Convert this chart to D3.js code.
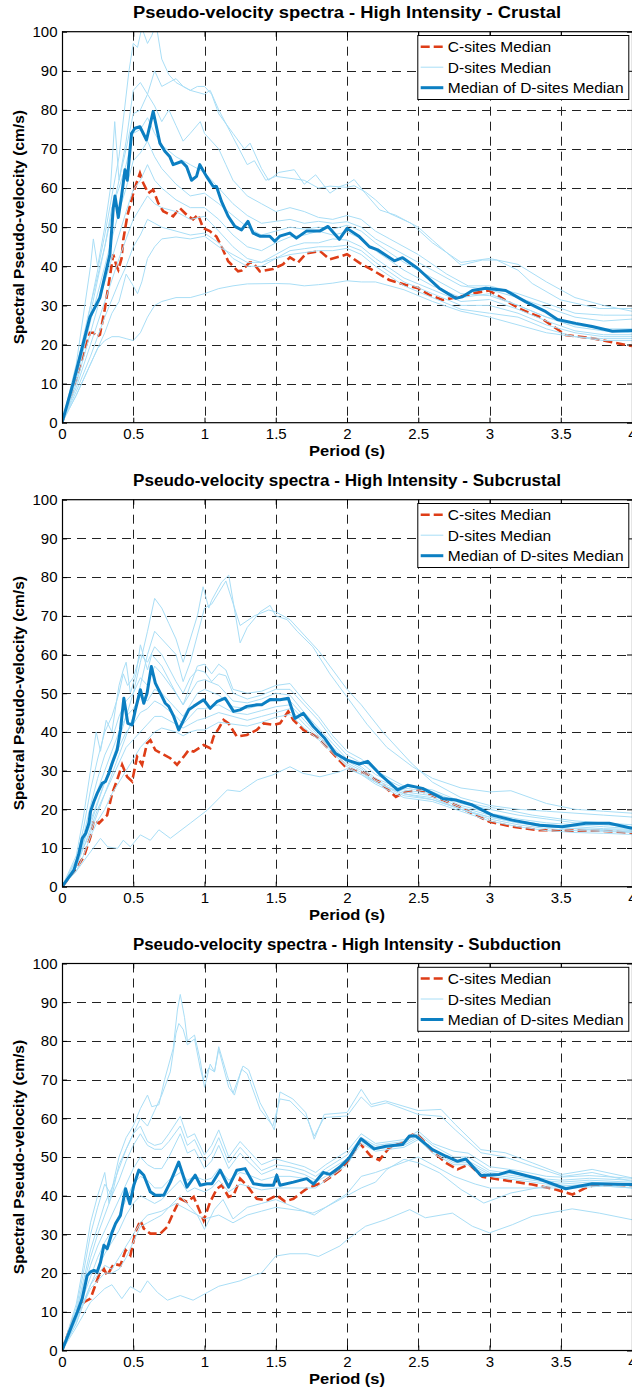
<!DOCTYPE html>
<html><head><meta charset="utf-8">
<script src="https://cdn.jsdelivr.net/npm/d3@7"></script>
<style>
body{margin:0;background:#fff}
svg{display:block}
text{font-family:"Liberation Sans",Arial,Helvetica,sans-serif;fill:#000}
</style>
</head><body>
<svg id="chart" width="632" height="1388"></svg>
<script>
// ---------- tick labels / text ----------
const periodTicks = [0, 0.5, 1, 1.5, 2, 2.5, 3, 3.5, 4];
const velocityTicks = [0, 10, 20, 30, 40, 50, 60, 70, 80, 90, 100];
const panelTitles = [
  "Pseudo-velocity spectra - High Intensity - Crustal",
  "Pseudo-velocity spectra - High Intensity - Subcrustal",
  "Pseudo-velocity spectra - High Intensity - Subduction"
];
const legendLabels = ["C-sites Median", "D-sites Median", "Median of D-sites Median"];
const xLabel = "Period (s)";
const yLabel = "Spectral Pseudo-velocity (cm/s)";

// ---------- Crustal ----------
const crustalC = [[0,0],[0.1,11],[0.173,20.4],[0.196,23],[0.22,23],[0.243,22],[0.266,22.5],[0.3,29],[0.336,37.4],[0.36,43],[0.383,40],[0.395,39.1],[0.418,42],[0.43,46.8],[0.458,52.8],[0.5,58.7],[0.523,61.3],[0.547,63.8],[0.57,61.3],[0.605,58.7],[0.64,59.6],[0.675,56.2],[0.71,54.1],[0.78,52.8],[0.827,54.9],[0.885,52.8],[0.92,52],[0.955,53.2],[0.99,49.8],[1.037,49],[1.084,47.6],[1.12,45],[1.166,41.3],[1.236,38.7],[1.26,38.9],[1.318,41],[1.34,40.9],[1.388,38.7],[1.48,39.3],[1.55,40.5],[1.6,42.3],[1.657,41],[1.715,43.3],[1.81,43.9],[1.879,41.8],[1.95,42.5],[2.0,43.1],[2.09,40.8],[2.18,39],[2.297,36.5],[2.414,35.2],[2.5,34.4],[2.577,32.7],[2.67,31.4],[2.787,32.2],[2.904,33.2],[2.998,33.8],[3.09,31.8],[3.208,29.2],[3.348,27.1],[3.477,23.9],[3.535,22.4],[3.72,21.6],[4,19.6]];
const crustalMedian = [[0,0],[0.079,10.2],[0.196,27],[0.266,32],[0.336,43],[0.36,55],[0.372,58],[0.395,52.5],[0.418,58],[0.442,64.7],[0.458,62],[0.488,74],[0.512,75.3],[0.547,75.7],[0.593,72.3],[0.64,79.6],[0.687,71.5],[0.722,69.4],[0.757,68],[0.78,66],[0.839,66.8],[0.874,65.5],[0.909,62],[0.944,63],[0.967,66],[1.014,63],[1.061,60.4],[1.084,60.4],[1.119,56.6],[1.166,52.8],[1.213,50.2],[1.26,49.3],[1.305,51.5],[1.341,48.5],[1.388,47.7],[1.458,47.7],[1.493,46.4],[1.528,47.7],[1.598,48.5],[1.645,47.2],[1.715,49],[1.808,49],[1.867,50.2],[1.946,46.9],[2.0,49.7],[2.086,47.6],[2.157,45],[2.215,44.2],[2.332,41.4],[2.39,42.2],[2.495,39.5],[2.647,34.4],[2.764,31.8],[2.81,32.2],[2.88,33.8],[2.974,34.4],[3.114,33.8],[3.255,30.9],[3.395,28.4],[3.477,26.4],[3.605,25.4],[3.72,24.6],[3.862,23.4],[4,23.6]];
const crustalD1 = [[0,0],[0.1,14],[0.2,30],[0.3,48],[0.4,68],[0.47,90],[0.5,97],[0.53,96],[0.56,101],[0.6,97],[0.63,99],[0.66,102],[0.7,93],[0.75,89],[0.8,87],[0.85,86],[0.9,85],[0.95,86],[1.0,86],[1.05,84],[1.1,79],[1.2,74],[1.28,70],[1.32,71.5],[1.4,65],[1.45,62],[1.52,64],[1.63,64.7],[1.7,61],[1.78,63.4],[1.88,58.7],[1.95,60.4],[2.0,61],[2.05,62.2],[2.13,58.6],[2.23,54.4],[2.34,53.1],[2.5,50],[2.6,46.7],[2.8,40.3],[2.95,41.6],[3.05,41.6],[3.2,39],[3.3,35.6],[3.5,31.4],[3.77,29.2],[4,29.2]];
const crustalD2 = [[0,0],[0.1,13],[0.2,28],[0.3,45],[0.4,62],[0.45,72],[0.5,85],[0.55,87],[0.6,84],[0.65,90],[0.7,86],[0.75,87],[0.8,88],[0.85,86],[0.9,85],[1.0,84],[1.04,85],[1.1,80],[1.2,73],[1.3,66],[1.35,67],[1.43,62],[1.5,63],[1.6,62.5],[1.7,62],[1.8,60],[1.88,60.5],[2.0,60.2],[2.05,60.6],[2.13,59],[2.2,57],[2.3,53.5],[2.45,51],[2.6,46],[2.8,41],[2.9,41.5],[3.0,42],[3.2,40.5],[3.4,36],[3.6,32],[3.8,30],[4,28.5]];
const crustalD3 = [[0,0],[0.1,15],[0.2,40],[0.22,47],[0.25,40],[0.3,50],[0.34,60],[0.37,77],[0.4,62],[0.45,70],[0.5,79],[0.55,80],[0.6,84],[0.65,81],[0.7,77],[0.75,80],[0.8,76],[0.85,72],[0.9,74],[0.97,77],[1.0,74],[1.1,70],[1.15,66],[1.2,62],[1.3,58],[1.4,56],[1.5,54],[1.6,55],[1.7,54],[1.8,52.5],[1.9,52],[2.0,53],[2.1,52],[2.2,49],[2.3,47],[2.5,43],[2.7,38],[2.85,35],[3.0,35],[3.2,33],[3.4,30.5],[3.6,28],[3.8,27.5],[4,27.5]];
const crustalD4 = [[0,0],[0.1,12],[0.2,30],[0.3,45],[0.35,55],[0.4,60],[0.45,66],[0.5,74],[0.55,75],[0.6,78],[0.65,74],[0.7,71],[0.8,68],[0.9,66],[1.0,64],[1.1,60],[1.2,56],[1.3,53],[1.4,51],[1.5,51.5],[1.6,52],[1.7,51],[1.8,51.5],[1.9,51],[2.0,51.4],[2.1,50],[2.2,47],[2.4,43],[2.6,39],[2.8,35],[3.0,34],[3.2,32],[3.4,29.5],[3.6,27],[3.8,26],[4,26.5]];
const crustalD5 = [[0,0],[0.1,11],[0.2,26],[0.3,40],[0.4,54],[0.45,60],[0.5,67],[0.55,69],[0.6,72],[0.65,68],[0.7,65],[0.8,61],[0.9,58],[1.0,58.7],[1.1,56],[1.2,53],[1.3,50],[1.4,48],[1.5,49],[1.6,50],[1.7,49.5],[1.8,50],[1.9,49.5],[2.0,50.5],[2.1,49],[2.2,46],[2.4,41],[2.6,37],[2.8,33],[3.0,32.5],[3.2,30],[3.4,27],[3.6,25],[3.8,24],[4,24]];
const crustalD6 = [[0,0],[0.1,10],[0.2,23],[0.3,36],[0.4,48],[0.45,54],[0.5,59.6],[0.55,62],[0.6,66],[0.65,62],[0.7,60],[0.8,57],[0.9,55],[1.0,55],[1.1,52],[1.2,48],[1.3,45],[1.4,44],[1.5,46],[1.6,47.5],[1.7,48],[1.8,49],[1.9,48],[2.0,48.8],[2.1,47],[2.2,44],[2.4,39],[2.6,35],[2.8,32],[3.0,33],[3.2,30],[3.4,27],[3.6,24.5],[3.8,23.5],[4,23]];
const crustalD7 = [[0,0],[0.1,9],[0.2,20],[0.3,31],[0.4,42],[0.45,47],[0.5,52],[0.55,55],[0.6,58],[0.65,56],[0.7,55],[0.8,54],[0.9,52],[1.0,52.8],[1.1,49],[1.2,45],[1.3,42],[1.4,41],[1.5,43],[1.6,45],[1.7,46],[1.8,46],[1.9,47],[2.0,46.7],[2.1,45],[2.2,42],[2.4,37],[2.6,34],[2.8,31],[3.0,31.5],[3.2,29],[3.4,26],[3.6,23.5],[3.8,22.5],[4,22.5]];
const crustalD8 = [[0,0],[0.1,8],[0.2,17],[0.3,27],[0.4,36],[0.45,40],[0.5,45],[0.55,48],[0.6,52],[0.65,51],[0.7,50],[0.8,49],[0.9,48],[1.0,48.5],[1.1,46],[1.2,42],[1.3,40],[1.4,40],[1.5,42],[1.6,44],[1.7,44.5],[1.8,45],[1.9,45],[2.0,45.4],[2.1,44],[2.2,41],[2.4,36],[2.6,33],[2.8,30],[3.0,30],[3.2,28],[3.4,25],[3.6,23],[3.8,22],[4,22]];
const crustalD9 = [[0,0],[0.1,7],[0.2,15],[0.3,23],[0.35,28],[0.4,31],[0.45,38],[0.5,35],[0.53,33],[0.56,36],[0.6,42],[0.65,45],[0.7,47],[0.8,47.5],[0.9,47],[1.0,47.7],[1.1,45],[1.2,43],[1.3,41],[1.4,41],[1.5,42],[1.6,43],[1.7,43.5],[1.8,44],[1.9,44],[2.0,44.6],[2.1,43],[2.2,40],[2.4,35],[2.6,32],[2.8,29],[3.0,28],[3.2,27],[3.4,24],[3.6,22],[3.8,21.5],[4,21.5]];
const crustalD10 = [[0,0],[0.1,7],[0.2,15],[0.25,19],[0.3,21],[0.35,22],[0.4,22],[0.45,21.5],[0.5,21],[0.55,23],[0.6,27],[0.65,30],[0.7,31],[0.8,32],[0.9,32],[1.0,33],[1.1,34.3],[1.2,35],[1.3,35.5],[1.5,35.6],[1.6,35.5],[1.7,35],[1.8,35.3],[1.9,35.7],[2.0,36.3],[2.1,36],[2.2,36],[2.4,34],[2.6,31],[2.8,28.5],[3.0,27],[3.2,25],[3.4,23],[3.6,22],[3.8,21],[4,21]];

// ---------- Subcrustal ----------
const subcrustalC = [[0,0],[0.084,3.9],[0.154,7.8],[0.2,12.9],[0.224,17.2],[0.259,16.4],[0.294,17.7],[0.317,18.5],[0.352,24.1],[0.387,27.6],[0.422,31.5],[0.457,28.4],[0.492,27.2],[0.527,33.6],[0.562,31.5],[0.597,37.1],[0.62,37.9],[0.655,35.3],[0.714,34.1],[0.76,33.2],[0.807,31.5],[0.854,33.6],[0.889,35.3],[0.924,34.9],[0.994,36.6],[1.04,35.8],[1.064,38.8],[1.1,40.9],[1.134,43.1],[1.169,42.2],[1.227,38.8],[1.297,39.2],[1.367,40.5],[1.414,42.2],[1.484,41.8],[1.53,42.2],[1.588,45.3],[1.623,43.1],[1.694,40.5],[1.787,38.8],[1.88,35.3],[1.95,32.5],[2.0,30.6],[2.13,29.3],[2.227,27.1],[2.343,23.2],[2.41,24.5],[2.507,25],[2.647,22.8],[2.787,20.7],[2.88,18.9],[3.0,16.8],[3.16,15.5],[3.35,14.6],[3.535,14.5],[3.77,14.5],[4,13.9]];
const subcrustalMedian = [[0,0],[0.084,4.3],[0.119,8.6],[0.142,12.5],[0.166,13.8],[0.189,16.4],[0.2,19.4],[0.224,22],[0.247,24.1],[0.282,26.7],[0.305,27.2],[0.329,29.3],[0.352,31.9],[0.387,35.3],[0.41,40.5],[0.434,48.7],[0.462,42.2],[0.492,41.8],[0.515,45.7],[0.55,50.9],[0.574,47.4],[0.597,50],[0.627,56.9],[0.655,52.6],[0.69,50],[0.725,47.4],[0.749,46.6],[0.784,44],[0.819,40.5],[0.854,43.1],[0.889,45.7],[0.924,46.6],[0.994,48.3],[1.04,46.1],[1.087,47.8],[1.145,48.7],[1.204,45.3],[1.25,45.7],[1.297,46.6],[1.367,47],[1.402,47],[1.46,48.4],[1.53,48.3],[1.588,48.7],[1.635,43.5],[1.694,44.8],[1.764,41.4],[1.84,38.5],[1.92,34.4],[2.0,32.7],[2.086,31.7],[2.145,32.4],[2.238,28.8],[2.355,25],[2.425,26.2],[2.53,25.4],[2.67,22.8],[2.764,22.4],[2.88,21.1],[3.02,18.5],[3.16,17.2],[3.35,15.9],[3.51,15.5],[3.675,16.4],[3.84,16.4],[4,15.1]];
const subcrustalD1 = [[0,0],[0.1,7],[0.2,16],[0.3,27],[0.4,38],[0.5,50],[0.55,58],[0.6,66],[0.65,74.5],[0.7,72],[0.75,68],[0.8,64],[0.85,58],[0.9,64],[0.95,70],[0.99,77.5],[1.03,72],[1.05,74],[1.12,78.7],[1.17,80.5],[1.25,63],[1.3,67],[1.39,71],[1.46,72.7],[1.5,70],[1.58,69],[1.65,66],[1.76,62],[1.88,55],[2.0,49],[2.14,42],[2.28,36],[2.46,31],[2.6,28],[2.8,25.5],[3.0,24.5],[3.15,24.8],[3.4,21.5],[3.6,20],[3.8,19.5],[4,19]];
const subcrustalD2 = [[0,0],[0.1,6],[0.2,14],[0.3,24],[0.4,34],[0.5,44],[0.55,52],[0.6,60],[0.65,66],[0.7,64],[0.8,60],[0.85,53],[0.9,58],[0.95,65],[1.0,72],[1.05,73],[1.1,76],[1.15,79],[1.25,67.5],[1.35,70],[1.45,71.5],[1.5,71],[1.6,69],[1.7,65],[1.8,61],[1.9,56],[2.0,51],[2.1,47],[2.25,40],[2.45,32],[2.6,27],[2.8,23],[3.0,21],[3.2,20],[3.4,19.5],[3.6,19],[3.8,18.5],[4,18]];
const subcrustalD3 = [[0,0],[0.1,8],[0.15,18],[0.2,30],[0.24,40],[0.27,35],[0.31,43],[0.35,40],[0.4,52],[0.43,56],[0.45,58],[0.48,50],[0.52,55],[0.55,62.5],[0.6,56],[0.63,60],[0.7,57],[0.8,50],[0.85,47],[0.9,52],[0.95,57],[1.0,57.5],[1.05,55],[1.1,57.5],[1.15,56],[1.2,51],[1.3,50],[1.4,50.5],[1.5,52],[1.6,52.5],[1.7,48],[1.8,44],[1.9,39],[2.0,35],[2.1,33],[2.2,30],[2.4,26],[2.6,25],[2.8,22],[3.0,20.5],[3.1,20],[3.3,18.5],[3.6,17],[3.8,16.5],[4,16]];
const subcrustalD4 = [[0,0],[0.1,7],[0.15,15],[0.2,25],[0.25,33],[0.3,40],[0.35,44],[0.4,50],[0.43,55],[0.46,52],[0.5,54],[0.55,60],[0.6,58],[0.65,62],[0.7,60],[0.8,53],[0.85,50],[0.9,54],[0.95,56],[1.0,55.5],[1.05,53],[1.1,55],[1.15,54.5],[1.2,50],[1.3,48.5],[1.4,49.5],[1.5,51],[1.6,51],[1.7,47],[1.8,43],[1.9,38],[2.0,34],[2.1,32],[2.2,29],[2.4,25.5],[2.6,24.5],[2.8,21.5],[3.0,20],[3.2,18.5],[3.4,17.5],[3.6,16.5],[3.8,16],[4,15.5]];
const subcrustalD5 = [[0,0],[0.1,6],[0.15,13],[0.2,21],[0.25,28],[0.3,34],[0.35,38],[0.4,44],[0.45,48],[0.5,50],[0.55,54],[0.6,52],[0.65,57],[0.7,55],[0.8,50],[0.85,47],[0.9,50],[0.95,53],[1.0,53.5],[1.1,52],[1.2,48],[1.3,47.5],[1.4,48.5],[1.5,50],[1.6,49.5],[1.7,45],[1.8,41],[1.9,37],[2.0,33],[2.1,31],[2.2,28],[2.4,25],[2.6,24],[2.8,21],[3.0,19],[3.2,17.5],[3.4,16.5],[3.6,16],[3.8,15.5],[4,15]];
const subcrustalD6 = [[0,0],[0.1,6],[0.15,12],[0.2,19],[0.25,25],[0.3,30],[0.35,35],[0.4,40],[0.45,44],[0.5,46],[0.55,49],[0.6,48],[0.65,51],[0.7,50],[0.8,46],[0.85,44],[0.9,47],[0.95,50],[1.0,51],[1.1,49.5],[1.2,46.5],[1.3,46],[1.4,47],[1.5,48.5],[1.6,48],[1.7,44],[1.8,40],[1.9,36],[2.0,32.5],[2.1,30.5],[2.2,27.5],[2.4,24.5],[2.6,23.5],[2.8,20.5],[3.0,18.5],[3.2,17],[3.4,16],[3.6,15.5],[3.8,15],[4,14.8]];
const subcrustalD7 = [[0,0],[0.1,5],[0.15,11],[0.2,17],[0.25,22],[0.3,27],[0.35,31],[0.4,36],[0.45,40],[0.5,42],[0.55,45],[0.6,46],[0.65,48],[0.7,47],[0.8,44],[0.85,42],[0.9,44],[0.95,46],[1.0,46],[1.1,47],[1.2,45],[1.3,44.5],[1.4,45.5],[1.5,46.5],[1.6,47],[1.7,43],[1.8,39],[1.9,35.5],[2.0,32],[2.1,30],[2.2,27],[2.4,24],[2.6,23],[2.8,20],[3.0,18],[3.2,16.5],[3.4,15.5],[3.6,15],[3.8,14.8],[4,14.5]];
const subcrustalD8 = [[0,0],[0.1,5],[0.15,10],[0.2,15],[0.25,20],[0.3,24],[0.35,28],[0.4,32],[0.45,36],[0.5,38],[0.55,40],[0.6,42],[0.65,44],[0.7,44],[0.8,42],[0.85,41],[0.9,42],[0.95,43],[1.0,43.5],[1.1,45],[1.2,44],[1.3,43],[1.4,44],[1.5,45],[1.6,46],[1.7,42],[1.8,38.5],[1.9,35],[2.0,31.5],[2.1,29.5],[2.2,27],[2.4,23.5],[2.6,22.5],[2.8,20],[3.0,17.5],[3.2,16],[3.4,15],[3.6,14.5],[3.8,14.3],[4,14]];
const subcrustalD9 = [[0,0],[0.1,4],[0.15,8],[0.2,13],[0.25,17],[0.3,20],[0.35,24],[0.4,27],[0.45,30],[0.5,33],[0.55,36],[0.6,38],[0.65,40],[0.7,41],[0.8,40],[0.85,39],[0.9,40],[0.95,40.5],[1.0,40.5],[1.1,42.5],[1.2,42],[1.3,41.5],[1.4,42.5],[1.5,43.8],[1.6,44.5],[1.7,41],[1.8,38],[1.9,34.5],[2.0,31],[2.1,29],[2.2,26.5],[2.4,23],[2.6,22],[2.8,19.5],[3.0,17],[3.2,15.5],[3.4,14.5],[3.6,14],[3.8,13.8],[4,13.5]];
const subcrustalD10 = [[0,0],[0.1,4],[0.2,9],[0.27,12.5],[0.32,10.3],[0.39,9.9],[0.43,12],[0.48,10.3],[0.55,13.4],[0.62,12],[0.68,14.7],[0.76,12.5],[0.9,16.4],[1.02,19.8],[1.16,25],[1.25,24.6],[1.37,27.6],[1.48,28.9],[1.6,31],[1.69,29.3],[1.81,28.4],[1.95,29.7],[2.0,30.5],[2.1,29],[2.2,27],[2.4,24],[2.6,22.5],[2.8,20],[3.0,18],[3.2,16.5],[3.4,15.5],[3.6,15],[3.8,14.5],[4,14.2]];

// ---------- Subduction ----------
const subductionC = [[0,0],[0.084,8.6],[0.154,12.5],[0.2,13.4],[0.259,19.4],[0.294,21.1],[0.317,19.4],[0.364,22.4],[0.41,22],[0.446,25.9],[0.48,24.6],[0.515,30.6],[0.55,33.6],[0.574,31.5],[0.62,30.2],[0.69,30.2],[0.737,31.9],[0.784,35.8],[0.83,39.2],[0.877,38.4],[0.924,39.7],[0.994,33.6],[1.04,38.4],[1.087,41.8],[1.122,42.7],[1.169,39.7],[1.204,40.1],[1.25,44.4],[1.297,42.7],[1.367,39.2],[1.437,38.8],[1.507,40.1],[1.565,38.5],[1.624,39.2],[1.717,41.8],[1.833,43.5],[1.904,45.3],[1.95,46.6],[2.0,48.5],[2.086,53.7],[2.168,50.2],[2.227,49.2],[2.297,52.4],[2.39,53.7],[2.46,55.8],[2.507,55.4],[2.6,51.5],[2.694,48.5],[2.776,46.8],[2.857,48.1],[2.95,44.9],[3.068,44.2],[3.3,42.9],[3.465,41.6],[3.582,40.3],[3.675,42],[3.72,42.6],[3.85,42.8],[4,42.7]];
const subductionMedian = [[0,0],[0.06,5.6],[0.107,9.9],[0.142,13.4],[0.177,19.4],[0.2,20.3],[0.224,20.7],[0.247,20.3],[0.27,22.8],[0.294,27.2],[0.317,26.3],[0.352,30.6],[0.376,32.8],[0.41,34.9],[0.446,41.8],[0.476,37.9],[0.504,42.7],[0.539,46.6],[0.574,45.3],[0.62,41],[0.655,40.1],[0.714,40.1],[0.76,43.5],[0.819,48.7],[0.877,42.2],[0.935,45.3],[0.97,42.7],[1.017,43.1],[1.052,43.1],[1.11,46.6],[1.169,42.2],[1.227,46.6],[1.285,47],[1.344,43.1],[1.414,42.7],[1.484,42.7],[1.507,45.3],[1.53,42.7],[1.624,43.5],[1.717,44.4],[1.765,43],[1.833,46],[1.88,45.5],[1.95,47.4],[2.016,49.8],[2.098,54.7],[2.19,52.1],[2.273,52.8],[2.39,53.2],[2.437,55.4],[2.484,55.4],[2.6,51.9],[2.694,50.2],[2.776,48.9],[2.834,49.5],[2.94,45.2],[3.068,45.5],[3.138,46.3],[3.35,44.3],[3.535,41.8],[3.72,43.1],[4,42.9]];
const subductionD1 = [[0,0],[0.1,12],[0.15,22],[0.2,33],[0.25,40],[0.3,46],[0.33,38],[0.37,45],[0.4,50],[0.45,55],[0.5,58],[0.55,62.5],[0.6,66],[0.63,63],[0.68,63.5],[0.72,70],[0.78,78],[0.81,88],[0.83,92],[0.86,86],[0.88,80],[0.93,81.5],[0.97,75],[1.0,68],[1.04,74],[1.07,72],[1.1,78.5],[1.16,71],[1.2,66.5],[1.27,73.5],[1.31,72.5],[1.39,64],[1.45,60],[1.49,57],[1.53,66.8],[1.62,65],[1.71,61.5],[1.77,54.6],[1.84,61],[2.0,61.5],[2.1,67.5],[2.17,63.6],[2.27,64.5],[2.5,62],[2.66,62.3],[2.76,58.4],[2.94,51.9],[3.11,51.1],[3.3,48.5],[3.51,45.5],[3.72,46.8],[4,44.6]];
const subductionD2 = [[0,0],[0.1,11],[0.15,20],[0.2,30],[0.25,37],[0.3,43],[0.35,40],[0.4,48],[0.45,52],[0.5,56],[0.55,60],[0.6,58],[0.65,62],[0.7,66],[0.76,72],[0.8,82],[0.82,84.5],[0.85,83],[0.88,79],[0.93,80.5],[0.97,73],[0.99,70],[1.03,73],[1.07,72],[1.1,77.8],[1.17,68],[1.21,66],[1.26,72.7],[1.3,71.5],[1.39,62.3],[1.48,58],[1.53,65],[1.6,64.5],[1.72,60],[1.77,55.4],[1.84,60.2],[2.0,60.6],[2.1,65.5],[2.17,63],[2.28,64],[2.5,61],[2.66,60.5],[2.76,57],[2.94,51.1],[3.11,50],[3.3,47.6],[3.52,45],[3.72,46],[4,43.7]];
const subductionD3 = [[0,0],[0.1,10],[0.15,18],[0.2,26],[0.25,32],[0.3,38],[0.35,42],[0.4,47],[0.45,52],[0.5,56],[0.55,58],[0.6,54],[0.65,53],[0.7,53.5],[0.75,56],[0.83,60.5],[0.88,55],[0.93,56],[1.0,50.5],[1.05,53],[1.1,57],[1.17,50],[1.25,54],[1.3,52],[1.4,48],[1.5,49.5],[1.6,48.5],[1.7,47.5],[1.78,46],[1.85,48],[2.0,51.5],[2.1,56],[2.2,53.5],[2.4,54.5],[2.5,56.7],[2.6,53.5],[2.75,51.5],[2.85,51],[3.0,47.5],[3.2,46.5],[3.4,45],[3.5,44.8],[3.7,45.2],[4,44.5]];
const subductionD4 = [[0,0],[0.1,10],[0.15,17],[0.2,24],[0.25,30],[0.3,35],[0.35,40],[0.4,44],[0.45,49],[0.5,53],[0.55,56],[0.6,53],[0.65,52],[0.7,52],[0.75,54],[0.83,58],[0.88,53],[0.93,54.5],[1.0,49],[1.05,51],[1.1,55],[1.17,48.5],[1.25,52.5],[1.3,50.5],[1.4,46.5],[1.5,48],[1.6,47.5],[1.7,46.5],[1.78,45],[1.85,47],[2.0,50.5],[2.1,55],[2.2,53],[2.4,54],[2.5,56],[2.6,53],[2.75,50],[2.85,50],[3.0,46.5],[3.2,45.5],[3.4,44.3],[3.5,44],[3.7,44.5],[4,44]];
const subductionD5 = [[0,0],[0.1,9],[0.15,16],[0.2,22],[0.25,27],[0.3,31],[0.35,35],[0.4,39],[0.45,43],[0.5,47],[0.55,50],[0.6,48],[0.65,47],[0.7,47],[0.75,50],[0.83,56],[0.88,51],[0.93,52],[1.0,47],[1.05,49],[1.1,53],[1.17,47],[1.25,51],[1.3,49],[1.4,45.5],[1.5,47],[1.6,46.5],[1.7,45.5],[1.78,44],[1.85,46],[2.0,49.5],[2.1,54.5],[2.2,52.5],[2.4,53.5],[2.5,55.5],[2.6,52],[2.75,49],[2.85,49],[3.0,46],[3.2,45],[3.4,43.8],[3.5,43.5],[3.7,44],[4,43.5]];
const subductionD6 = [[0,0],[0.1,8],[0.15,14],[0.2,19],[0.25,24],[0.3,28],[0.35,31],[0.4,35],[0.45,39],[0.5,43],[0.55,45],[0.6,44],[0.65,42],[0.7,42],[0.75,44],[0.83,46],[0.88,44],[0.93,45],[1.0,44],[1.05,44.5],[1.1,47],[1.17,44],[1.25,46],[1.3,45.5],[1.4,44],[1.5,45],[1.6,45],[1.7,44.5],[1.78,43.5],[1.85,45],[2.0,49],[2.1,54],[2.2,52],[2.4,53],[2.5,55],[2.6,51.5],[2.75,48.5],[2.85,48.5],[3.0,45.5],[3.2,44.5],[3.4,43.5],[3.5,43],[3.7,43.5],[4,43]];
const subductionD7 = [[0,0],[0.1,7],[0.15,12],[0.2,17],[0.25,21],[0.3,25],[0.35,28],[0.4,31],[0.45,35],[0.5,38],[0.55,40],[0.6,39],[0.65,38],[0.7,39],[0.75,41],[0.83,44],[0.88,41],[0.93,42],[1.0,41],[1.05,42],[1.1,44],[1.17,41],[1.25,43],[1.3,42.5],[1.4,41.5],[1.5,42],[1.6,42],[1.7,42],[1.78,42],[1.85,44],[2.0,48],[2.1,53.5],[2.2,51.5],[2.4,52.5],[2.5,54.5],[2.6,51],[2.75,48],[2.85,48],[3.0,45],[3.2,44],[3.4,43],[3.5,42.5],[3.7,43],[4,42.5]];
const subductionD8 = [[0,0],[0.1,7],[0.15,12],[0.2,16],[0.25,18],[0.3,20],[0.35,20],[0.4,21],[0.45,24],[0.5,28],[0.55,32],[0.6,33],[0.65,34],[0.7,35],[0.75,37],[0.83,40],[0.9,37],[0.95,35],[1.0,31.3],[1.07,36.5],[1.13,39],[1.2,34],[1.3,37],[1.4,38],[1.5,39],[1.6,37.5],[1.7,36],[1.76,35.5],[1.85,37],[2.0,40],[2.1,42],[2.2,43.5],[2.28,46.8],[2.4,49.4],[2.5,48.5],[2.65,45.9],[2.8,41.6],[2.96,38.1],[3.15,40.7],[3.4,42.5],[3.6,42.5],[3.8,42.5],[4,42]];
const subductionD9 = [[0,0],[0.1,6],[0.2,12.5],[0.3,16],[0.35,17],[0.42,13.4],[0.48,16.5],[0.55,15],[0.6,18],[0.67,15],[0.74,13],[0.83,14.2],[0.92,13],[1.02,15],[1.1,16.6],[1.25,18],[1.35,19.5],[1.4,20],[1.5,24.4],[1.6,25],[1.72,25],[1.8,24.3],[1.95,27],[2.0,28.6],[2.13,32.1],[2.27,33.8],[2.44,36.4],[2.55,34.3],[2.74,35.5],[2.88,32.1],[3.0,30.4],[3.16,32.5],[3.3,34.7],[3.58,36.6],[3.77,35.5],[4,33.8]];
const subductionD10 = [[0,0],[0.1,8],[0.2,17],[0.3,22],[0.35,21],[0.4,24],[0.45,27],[0.5,30],[0.55,33],[0.6,35],[0.7,36],[0.8,38],[0.9,36],[1.0,34],[1.1,35],[1.2,33],[1.3,35],[1.4,36],[1.5,37],[1.6,36.5],[1.7,36],[1.77,35],[1.85,37],[2.0,40.5],[2.1,45],[2.2,46],[2.35,48],[2.5,50],[2.6,48],[2.75,45],[2.9,43],[3.0,42],[3.2,42],[3.4,42],[3.6,42],[3.8,42.5],[4,42]];

// ---------- drawing ----------
const COLORS = {c: "#de3d17", d: "#a9def6", med: "#0c7fc2", grid: "#222"};
const svg = d3.select("#chart");
svg.append("rect").attr("width", 632).attr("height", 1388).attr("fill", "#fff");

const panels = [
  {title: panelTitles[0], top: 31.7, bottom: 422.7, c: crustalC, med: crustalMedian,
   d: [crustalD1, crustalD2, crustalD3, crustalD4, crustalD5, crustalD6, crustalD7, crustalD8, crustalD9, crustalD10]},
  {title: panelTitles[1], top: 499.7, bottom: 886.7, c: subcrustalC, med: subcrustalMedian,
   d: [subcrustalD1, subcrustalD2, subcrustalD3, subcrustalD4, subcrustalD5, subcrustalD6, subcrustalD7, subcrustalD8, subcrustalD9, subcrustalD10]},
  {title: panelTitles[2], top: 963.5, bottom: 1350.5, c: subductionC, med: subductionMedian,
   d: [subductionD1, subductionD2, subductionD3, subductionD4, subductionD5, subductionD6, subductionD7, subductionD8, subductionD9, subductionD10]}
];

const LEFT = 62, RIGHT = 632;

panels.forEach((p, i) => {
  const x = d3.scaleLinear().domain([0, 4]).range([LEFT, RIGHT]);
  const y = d3.scaleLinear().domain([0, 100]).range([p.bottom, p.top]);
  const g = svg.append("g");
  const h = p.bottom - p.top;

  // grid
  const grid = g.append("g").attr("stroke", COLORS.grid).attr("stroke-width", 1)
    .attr("stroke-dasharray", "9,6");
  grid.selectAll("line.v").data(periodTicks.filter(t => t > 0 && t < 4)).join("line")
    .attr("x1", d => Math.round(x(d)) + 0.5).attr("x2", d => Math.round(x(d)) + 0.5)
    .attr("y1", p.top).attr("y2", p.bottom);
  grid.selectAll("line.h").data(velocityTicks.filter(t => t > 0 && t < 100)).join("line")
    .attr("y1", d => Math.round(y(d)) + 0.5).attr("y2", d => Math.round(y(d)) + 0.5)
    .attr("x1", LEFT).attr("x2", RIGHT);

  // clip
  const cid = "clip" + i;
  svg.append("clipPath").attr("id", cid).append("rect")
    .attr("x", LEFT).attr("y", p.top).attr("width", RIGHT - LEFT).attr("height", h);
  const plot = g.append("g").attr("clip-path", `url(#${cid})`);
  const line = d3.line().x(d => x(d[0])).y(d => y(d[1]));

  plot.append("path").datum(p.c).attr("d", line).attr("fill", "none")
    .attr("stroke", COLORS.c).attr("stroke-width", 2.6).attr("stroke-dasharray", "9,4");
  plot.selectAll("path.dl").data(p.d).join("path").attr("class", "dl")
    .attr("d", line).attr("fill", "none").attr("stroke", COLORS.d).attr("stroke-width", 1);
  plot.append("path").datum(p.med).attr("d", line).attr("fill", "none")
    .attr("stroke", COLORS.med).attr("stroke-width", 3).attr("stroke-linejoin", "round");

  // axes
  const ax = g.append("g").attr("transform", `translate(0,${p.bottom})`)
    .call(d3.axisBottom(x).tickValues(periodTicks).tickFormat(d3.format("~g"))
      .tickSizeInner(-5).tickSizeOuter(0).tickPadding(5.6));
  const ay = g.append("g").attr("transform", `translate(${LEFT},0)`)
    .call(d3.axisLeft(y).tickValues(velocityTicks).tickFormat(d3.format("d"))
      .tickSizeInner(-5).tickSizeOuter(0).tickPadding(4.5));
  const at = g.append("g").attr("transform", `translate(0,${p.top})`)
    .call(d3.axisTop(x).tickValues(periodTicks).tickFormat("").tickSizeInner(-5).tickSizeOuter(0));
  const ar = g.append("g").attr("transform", `translate(${RIGHT},0)`)
    .call(d3.axisRight(y).tickValues(velocityTicks).tickFormat("").tickSizeInner(-5).tickSizeOuter(0));
  [ax, ay, at, ar].forEach(a => {
    a.select(".domain").remove();
    a.selectAll("line").attr("stroke", "#000");
    a.selectAll("text").attr("font-size", 15).attr("fill", "#000")
      .attr("font-family", "'Liberation Sans', Arial, sans-serif");
  });
  g.append("rect").attr("x", LEFT + 0.5).attr("y", p.top).attr("width", RIGHT - LEFT)
    .attr("height", h).attr("fill", "none").attr("stroke", "#000").attr("stroke-width", 1.2);

  // title
  g.append("text").attr("x", (LEFT + RIGHT) / 2).attr("y", p.top - 13.4)
    .attr("text-anchor", "middle").attr("font-weight", "bold").attr("font-size", 16)
    .attr("textLength", 428).attr("lengthAdjust", "spacingAndGlyphs").text(p.title);
  // x label
  g.append("text").attr("x", (LEFT + RIGHT) / 2).attr("y", p.bottom + 33.3)
    .attr("text-anchor", "middle").attr("font-weight", "bold").attr("font-size", 15.5)
    .attr("textLength", 76).attr("lengthAdjust", "spacingAndGlyphs").text(xLabel);
  // y label
  g.append("text").attr("transform", `translate(23.5,${(p.top + p.bottom) / 2}) rotate(-90)`)
    .attr("text-anchor", "middle").attr("font-weight", "bold").attr("font-size", 15.5)
    .text(yLabel);

  // legend
  const lg = g.append("g");
  const lx = 417.3, ly = p.top + 3.3;
  lg.append("rect").attr("x", lx + 0.5).attr("y", ly + 0.5).attr("width", 211).attr("height", 64)
    .attr("fill", "#fff").attr("stroke", "#000").attr("stroke-width", 1);
  const styles = [
    {stroke: COLORS.c, w: 2.6, dash: "9,4"},
    {stroke: COLORS.d, w: 1, dash: null},
    {stroke: COLORS.med, w: 3, dash: null}
  ];
  legendLabels.forEach((lab, k) => {
    const yy = ly + 11.7 + k * 20.5;
    lg.append("line").attr("x1", lx + 3.4).attr("x2", lx + 26).attr("y1", yy).attr("y2", yy)
      .attr("stroke", styles[k].stroke).attr("stroke-width", styles[k].w)
      .attr("stroke-dasharray", styles[k].dash);
    lg.append("text").attr("x", lx + 30.5).attr("y", yy + 5.5).attr("font-size", 15.5).text(lab);
  });
});
</script>
</body></html>
